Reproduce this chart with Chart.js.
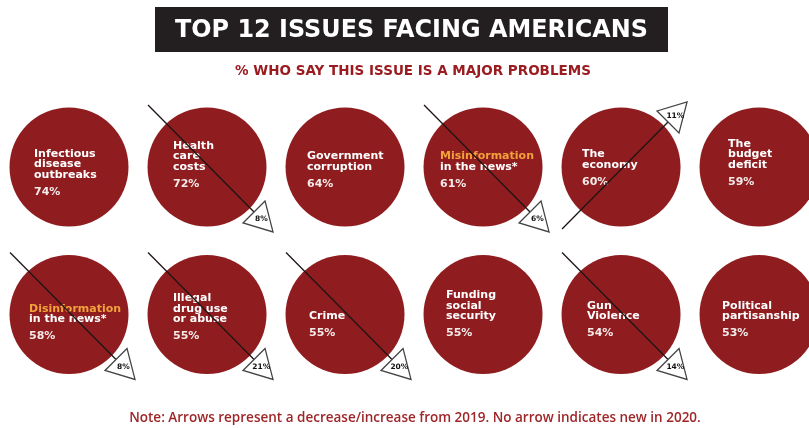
<!DOCTYPE html>
<html>
<head>
<meta charset="utf-8">
<script src="https://cdn.jsdelivr.net/npm/chart.js@4"></script>
<style>
  html, body { margin: 0; padding: 0; background: #fff; }
  #wrap { width: 809px; height: 428px; position: relative; }
</style>
</head>
<body>
<div id="wrap"><canvas id="issues"></canvas></div>
<script>
const issues = [
  ['Infectious', 'disease', 'outbreaks'],
  ['Health', 'care', 'costs'],
  ['Government', 'corruption'],
  ['Misinformation', 'in the news*'],
  ['The', 'economy'],
  ['The', 'budget', 'deficit'],
  ['Disinformation', 'in the news*'],
  ['Illegal', 'drug use', 'or abuse'],
  ['Crime'],
  ['Funding', 'social', 'security'],
  ['Gun', 'Violence'],
  ['Political', 'partisanship']
];
const shares = [74, 72, 64, 61, 60, 59, 58, 55, 55, 55, 54, 53];
// change from 2019 in points, null = new in 2020
const changes = [null, -8, null, -6, 11, null, -8, -21, -20, null, -14, null];

const title = 'TOP 12 ISSUES FACING AMERICANS';
const subtitle = '% WHO SAY THIS ISSUE IS A MAJOR PROBLEMS';
const note = 'Note: Arrows represent a decrease/increase from 2019. No arrow indicates new in 2020.';

// layout tweaks (pixels, relative to circle centre)
const textDx = [-35, -34, -38, -43, -39, -31, -40, -34, -36, -37, -34, -37];
const textDy = [25, 17, 17, 17, 15, 15, 22, 22, 19, 19, 19, 19];
const accentFirst = [3, 6];

const RED = '#8f1d20';
const FONT = '"DejaVu Sans", sans-serif';

const points = shares.map((v, i) => ({ x: i % 6, y: Math.floor(i / 6) }));

const infoPlugin = {
  id: 'info',
  beforeDatasetsDraw(chart) {
    const ctx = chart.ctx;
    ctx.save();
    ctx.fillStyle = '#231f20';
    ctx.fillRect(155, 7, 513, 45);
    ctx.fillStyle = '#fff';
    ctx.textAlign = 'center';
    ctx.textBaseline = 'middle';
    ctx.font = 'bold 24px ' + FONT;
    ctx.fillText(title, 411.5, 31, 473);
    ctx.fillStyle = '#9b1c20';
    ctx.font = 'bold 13.5px ' + FONT;
    ctx.fillText(subtitle, 413, 71.5, 358);
    ctx.fillStyle = '#9e2528';
    ctx.font = '600 13.5px "Open Sans", sans-serif';
    ctx.fillText(note, 415, 418, 572);
    ctx.restore();
  },
  afterDatasetsDraw(chart) {
    const ctx = chart.ctx;
    const xs = chart.scales.x, ys = chart.scales.y;
    ctx.save();
    issues.forEach((lines, i) => {
      const cx = xs.getPixelForValue(points[i].x);
      const cy = ys.getPixelForValue(points[i].y);
      const left = cx + textDx[i];
      const pctY = cy + textDy[i];
      ctx.textAlign = 'left';
      ctx.textBaseline = 'middle';
      ctx.font = 'bold 11px ' + FONT;
      lines.forEach((t, k) => {
        ctx.fillStyle = (k === 0 && accentFirst.includes(i)) ? '#f2a23b' : '#fff';
        ctx.fillText(t, left, pctY - 17 - (lines.length - 1 - k) * 10.5);
      });
      ctx.fillStyle = '#f4ebe9';
      ctx.fillText(shares[i] + '%', left, pctY);

      const c = changes[i];
      if (c === null) return;
      const s = c < 0 ? 1 : -1; // down-right for decrease, up-right for increase
      const b1 = [cx + 58, cy + 34 * s], b2 = [cx + 36, cy + 56 * s], tip = [cx + 66, cy + 65 * s];
      const mid = [(b1[0] + b2[0]) / 2, (b1[1] + b2[1]) / 2];
      ctx.strokeStyle = '#1e1414';
      ctx.lineWidth = 1.3;
      ctx.beginPath();
      ctx.moveTo(cx - 59, cy - 62 * s);
      ctx.lineTo(mid[0], mid[1]);
      ctx.stroke();
      ctx.beginPath();
      ctx.moveTo(b1[0], b1[1]);
      ctx.lineTo(tip[0], tip[1]);
      ctx.lineTo(b2[0], b2[1]);
      ctx.closePath();
      ctx.fillStyle = '#fff';
      ctx.fill();
      ctx.strokeStyle = '#444';
      ctx.lineWidth = 1.3;
      ctx.stroke();
      ctx.fillStyle = '#111';
      ctx.textAlign = 'center';
      ctx.font = 'bold 7.5px ' + FONT;
      ctx.fillText(Math.abs(c) + '%', (b1[0] + b2[0] + tip[0]) / 3 + 1, (b1[1] + b2[1] + tip[1]) / 3 + 0.5);
    });
    ctx.restore();
  }
};

new Chart(document.getElementById('issues'), {
  type: 'scatter',
  data: {
    datasets: [{
      data: points,
      backgroundColor: RED,
      borderWidth: 0,
      pointRadius: 59.5,
      pointHoverRadius: 59.5,
      clip: false
    }]
  },
  options: {
    responsive: true,
    maintainAspectRatio: false,
    animation: false,
    events: [],
    layout: { padding: 0, autoPadding: false },
    scales: {
      x: { type: 'linear', display: false, min: -0.5, max: 5.362 },
      y: { type: 'linear', display: false, reverse: true, min: -1.132, max: 1.77 }
    },
    plugins: {
      legend: { display: false },
      tooltip: { enabled: false }
    }
  },
  plugins: [infoPlugin]
});
</script>
</body>
</html>
